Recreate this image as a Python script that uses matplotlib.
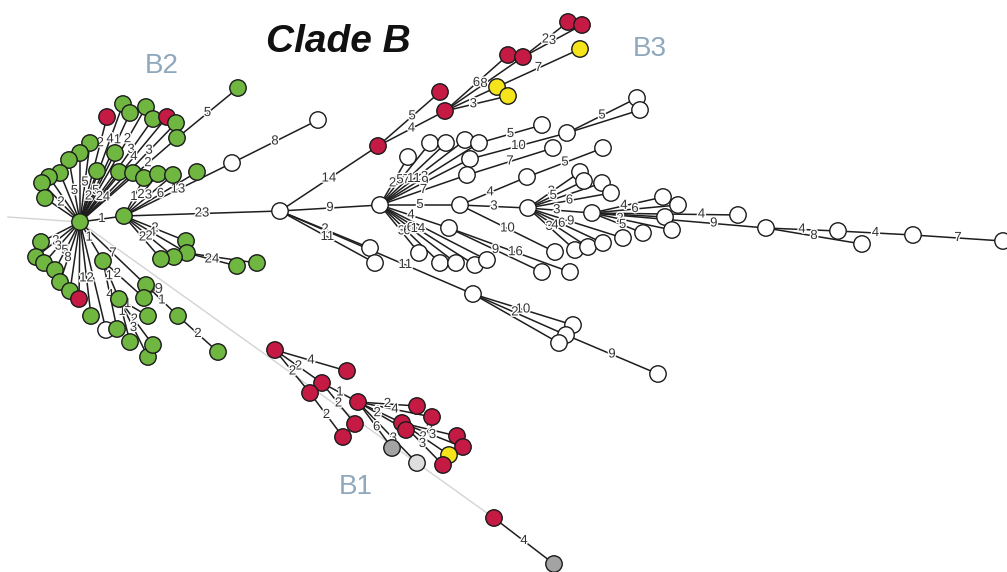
import matplotlib.pyplot as plt
import matplotlib.patheffects as pe

# colour codes for node fills
FILL = {"g": "#70b742", "r": "#c41a44", "y": "#f5e31b", "k": "#a3a3a3",
        "l": "#dedede", "w": "#ffffff"}

# --- nodes: (id, x, y, fill) in layout units (y grows downward) ---
b2_nodes = [
    ("g0", 80, 222, "g"), ("g1", 124, 216, "g"),
    ("u1", 107, 117, "r"), ("u2", 123, 104, "g"), ("u3", 130, 113, "g"),
    ("u4", 146, 107, "g"), ("u5", 153, 119, "g"), ("u6", 167, 117, "r"),
    ("u7", 176, 123, "g"), ("u8", 177, 138, "g"), ("u9", 238, 88, "g"),
    ("u10", 115, 153, "g"), ("u11", 90, 143, "g"), ("u12", 80, 153, "g"),
    ("u13", 69, 160, "g"), ("u14", 60, 173, "g"), ("u15", 49, 177, "g"),
    ("u16", 42, 183, "g"), ("u17", 45, 198, "g"), ("u18", 97, 171, "g"),
    ("u19", 119, 172, "g"), ("u20", 133, 173, "g"), ("u21", 144, 178, "g"),
    ("u22", 158, 174, "g"), ("u23", 173, 175, "g"), ("u24", 197, 172, "g"),
    ("l1", 41, 242, "g"), ("l2", 36, 257, "g"), ("l3", 44, 263, "g"),
    ("l4", 55, 270, "g"), ("l5", 60, 282, "g"), ("l6", 70, 291, "g"),
    ("l7", 79, 299, "r"), ("l8", 91, 316, "g"), ("l9", 106, 330, "w"),
    ("l10", 117, 329, "g"), ("l11", 130, 342, "g"), ("l12", 148, 357, "g"),
    ("l13", 153, 345, "g"), ("l14", 148, 316, "g"), ("l15", 119, 299, "g"),
    ("l16", 103, 261, "g"), ("l17", 146, 285, "g"), ("l18", 144, 298, "g"),
    ("l19", 178, 316, "g"), ("l20", 218, 352, "g"), ("l21", 186, 241, "g"),
    ("l22", 187, 253, "g"), ("l23", 174, 257, "g"), ("l24", 161, 259, "g"),
    ("l25", 237, 266, "g"), ("l26", 257, 263, "g"),
]

b3_nodes = [
    ("wb", 232, 163, "w"), ("w5", 318, 120, "w"),
    ("w0", 280, 211, "w"), ("w1", 380, 205, "w"), ("w2", 460, 205, "w"),
    ("w3", 528, 208, "w"), ("w4", 592, 213, "w"),
    ("r1", 378, 146, "r"), ("r2", 440, 92, "r"), ("r3", 445, 111, "r"),
    ("r4", 508, 55, "r"), ("r5", 523, 57, "r"), ("r6", 568, 22, "r"),
    ("r7", 582, 25, "r"), ("y1", 497, 87, "y"), ("y2", 508, 96, "y"),
    ("y3", 580, 49, "y"),
    ("a1", 408, 157, "w"), ("a2", 430, 143, "w"), ("a3", 446, 143, "w"),
    ("a4", 465, 140, "w"), ("a5", 479, 143, "w"), ("a6", 470, 159, "w"),
    ("a7", 467, 175, "w"), ("a8", 542, 125, "w"), ("a9", 567, 133, "w"),
    ("a10", 553, 148, "w"), ("a11", 637, 98, "w"), ("a12", 640, 110, "w"),
    ("b1", 449, 228, "w"), ("b2", 419, 253, "w"), ("b3", 440, 263, "w"),
    ("b4", 456, 263, "w"), ("b5", 475, 265, "w"), ("b6", 487, 260, "w"),
    ("b7", 542, 272, "w"), ("b8", 570, 272, "w"),
    ("c1", 370, 248, "w"), ("c2", 375, 263, "w"), ("c3", 473, 294, "w"),
    ("c4", 573, 325, "w"), ("c5", 566, 335, "w"), ("c6", 559, 343, "w"),
    ("c7", 658, 374, "w"),
    ("d1", 527, 177, "w"), ("d2", 603, 148, "w"), ("d3", 555, 252, "w"),
    ("e1", 580, 172, "w"), ("e2", 584, 181, "w"), ("e3", 602, 183, "w"),
    ("e4", 611, 193, "w"), ("e5", 575, 250, "w"), ("e6", 588, 247, "w"),
    ("e7", 603, 243, "w"), ("e8", 623, 238, "w"),
    ("f1", 663, 197, "w"), ("f2", 678, 205, "w"), ("f3", 665, 217, "w"),
    ("f4", 672, 230, "w"), ("f5", 643, 233, "w"),
    ("h1", 738, 215, "w"), ("h2", 766, 228, "w"), ("h3", 838, 231, "w"),
    ("h4", 862, 244, "w"), ("h5", 913, 235, "w"), ("h6", 1003, 241, "w"),
]

b1_nodes = [
    ("m1", 275, 350, "r"), ("m2", 347, 371, "r"), ("m3", 322, 383, "r"),
    ("m4", 310, 393, "r"), ("m5", 358, 402, "r"), ("m6", 355, 424, "r"),
    ("m7", 343, 437, "r"), ("m8", 417, 406, "r"), ("m9", 432, 417, "r"),
    ("m10", 402, 423, "r"), ("m11", 406, 430, "r"), ("m12", 392, 448, "k"),
    ("m13", 417, 463, "l"), ("m14", 457, 436, "r"), ("m15", 463, 447, "r"),
    ("m16", 449, 455, "y"), ("m17", 443, 465, "r"), ("m18", 494, 518, "r"),
    ("m19", 554, 564, "k"),
]

# --- edges: (from, to, distance label, label position along edge) ---
b2_edges = [
    ("g0", "g1", "1", 0.5),
    ("g0", "u1", "2", 0.75), ("g0", "u2", "4", 0.7), ("g0", "u3", "1", 0.75),
    ("g0", "u4", "2", 0.72), ("g0", "u5", "3", 0.7), ("g0", "u6", "4", 0.62),
    ("g0", "u7", "3", 0.72), ("g0", "u8", "2", 0.7), ("u8", "u9", "5", 0.5),
    ("g0", "u10", "5", 0.45), ("g0", "u11", "5", 0.5), ("g0", "u12", "", 0.5),
    ("g0", "u13", "5", 0.5), ("g0", "u14", "", 0.5), ("g0", "u15", "", 0.5),
    ("g0", "u16", "2", 0.5), ("g0", "u17", "", 0.5), ("g0", "u18", "2", 0.5),
    ("g0", "u19", "2", 0.5), ("g0", "u20", "4", 0.5),
    ("g1", "u21", "1", 0.5), ("g1", "u22", "2", 0.5), ("g1", "u23", "3", 0.5),
    ("g1", "u24", "6", 0.5),
    ("g0", "l1", "", 0.5), ("g0", "l2", "2", 0.55), ("g0", "l3", "3", 0.6),
    ("g0", "l4", "5", 0.6), ("g0", "l5", "8", 0.6), ("g0", "l6", "", 0.5),
    ("g0", "l7", "", 0.5), ("g0", "l8", "12", 0.6), ("g0", "l9", "", 0.5),
    ("g0", "l16", "1", 0.4), ("g0", "l17", "7", 0.5),
    ("l16", "l15", "1", 0.4), ("l16", "l18", "2", 0.35), ("l16", "l10", "4", 0.5),
    ("l15", "l14", "1", 0.3), ("l15", "l11", "1", 0.3), ("l15", "l13", "2", 0.45),
    ("l15", "l12", "3", 0.5), ("l17", "l19", "1", 0.5), ("l19", "l20", "2", 0.5),
    ("g1", "l21", "2", 0.5), ("g1", "l22", "4", 0.45), ("g1", "l23", "2", 0.5),
    ("g1", "l24", "2", 0.5), ("l22", "l25", "24", 0.5), ("l22", "l26", "", 0.5),
]

b3_edges = [
    ("g1", "w0", "23", 0.5), ("g1", "wb", "13", 0.5), ("wb", "w5", "8", 0.5),
    ("w0", "w1", "9", 0.5), ("w0", "r1", "14", 0.5),
    ("r1", "r2", "5", 0.55), ("r1", "r3", "4", 0.5),
    ("r3", "r4", "6", 0.5), ("r3", "r5", "8", 0.5), ("r3", "y1", "", 0.5),
    ("r3", "y2", "3", 0.45), ("r5", "r6", "2", 0.5), ("r5", "r7", "3", 0.5),
    ("y1", "y3", "7", 0.5),
    ("w0", "c1", "2", 0.5), ("w0", "c2", "11", 0.5), ("w0", "c3", "11", 0.65),
    ("c3", "c4", "10", 0.5), ("c3", "c5", "2", 0.45), ("c3", "c6", "", 0.5),
    ("c5", "c7", "9", 0.5),
    ("w1", "w2", "5", 0.5),
    ("w1", "a1", "2", 0.45), ("w1", "a2", "5", 0.4), ("w1", "a3", "7", 0.4),
    ("w1", "a4", "11", 0.4), ("w1", "a5", "3", 0.45), ("w1", "a6", "9", 0.5),
    ("w1", "a7", "7", 0.5), ("a5", "a8", "5", 0.5), ("a6", "a9", "10", 0.5),
    ("a7", "a10", "7", 0.5), ("a9", "a11", "5", 0.5), ("a9", "a12", "", 0.5),
    ("w1", "b1", "4", 0.45), ("w1", "b2", "3", 0.55), ("w1", "b3", "6", 0.45),
    ("w1", "b4", "6", 0.4), ("w1", "b5", "14", 0.4), ("w1", "b6", "", 0.5),
    ("b1", "b7", "9", 0.5), ("b1", "b8", "16", 0.55),
    ("w2", "d1", "4", 0.45), ("w2", "w3", "3", 0.5), ("w2", "d3", "10", 0.5),
    ("d1", "d2", "5", 0.5),
    ("w3", "e1", "3", 0.45), ("w3", "e2", "5", 0.45), ("w3", "e3", "", 0.5),
    ("w3", "e4", "6", 0.5), ("w3", "w4", "3", 0.45), ("w3", "e5", "3", 0.45),
    ("w3", "e6", "4", 0.45), ("w3", "e7", "6", 0.45), ("w3", "e8", "9", 0.45),
    ("w4", "f1", "4", 0.45), ("w4", "f2", "6", 0.5), ("w4", "f3", "", 0.5),
    ("w4", "f4", "2", 0.35), ("w4", "f5", "5", 0.6),
    ("w4", "h1", "4", 0.75), ("w4", "h2", "9", 0.7),
    ("h2", "h3", "4", 0.5), ("h2", "h4", "8", 0.5), ("h3", "h5", "4", 0.5),
    ("h5", "h6", "7", 0.5),
]

b1_edges = [
    ("m1", "m2", "4", 0.5), ("m1", "m3", "2", 0.5), ("m1", "m4", "2", 0.5),
    ("m3", "m5", "1", 0.5), ("m3", "m6", "2", 0.5), ("m4", "m7", "2", 0.5),
    ("m5", "m8", "2", 0.5), ("m5", "m9", "4", 0.5), ("m5", "m10", "1", 0.45),
    ("m5", "m11", "2", 0.4), ("m5", "m12", "6", 0.55), ("m5", "m13", "3", 0.6),
    ("m10", "m14", "2", 0.5), ("m10", "m15", "3", 0.5), ("m10", "m16", "2", 0.45),
    ("m10", "m17", "3", 0.5), ("m18", "m19", "4", 0.5),
]

# faint guide lines joining B2 with B1
faint_links = [("g0", "m18"), ("g0", (8, 217))]

clade_titles = [("B2", 162, 66), ("B3", 650, 49), ("B1", 356, 487)]

# ------------------------------------------------------------------
pos = {}
fill = {}
for group in (b2_nodes, b3_nodes, b1_nodes):
    for nid, x, y, c in group:
        pos[nid] = (x, y)
        fill[nid] = FILL[c]

fig = plt.figure(figsize=(10.07, 5.72), dpi=100)
ax = fig.add_axes([0, 0, 1, 1])
ax.set_xlim(0, 1007)
ax.set_ylim(572, 0)
ax.axis("off")

for a, b in faint_links:
    p = pos[a]
    q = pos[b] if isinstance(b, str) else b
    ax.plot([p[0], q[0]], [p[1], q[1]], color="#d4d4d4", lw=1.0, zorder=0)

halo = [pe.withStroke(linewidth=2.0, foreground="white")]
for edges in (b2_edges, b3_edges, b1_edges):
    for a, b, lab, t in edges:
        (x1, y1), (x2, y2) = pos[a], pos[b]
        ax.plot([x1, x2], [y1, y2], color="#1e1e1e", lw=1.1, zorder=1)
        if lab:
            ax.text(x1 + t * (x2 - x1), y1 + t * (y2 - y1), lab,
                    fontsize=9.5, color="#333333", family="Liberation Sans",
                    ha="center", va="center", zorder=2, path_effects=halo)

ids = list(pos)
ax.scatter([pos[i][0] for i in ids], [pos[i][1] for i in ids],
           s=140, c=[fill[i] for i in ids], edgecolors="#1a1a1a",
           linewidths=1.0, zorder=3)

ax.text(155, 289, "59", fontsize=11, color="#444444", family="Liberation Sans",
        ha="center", va="center", zorder=2)

for name, x, y in clade_titles:
    ax.text(x, y, name, fontsize=20, color="#8fa8bd", family="Liberation Sans",
            ha="center", va="center")

ax.text(338, 42, "Clade B", fontsize=28, fontweight="bold", fontstyle="italic",
        family="Liberation Sans", color="#111111", ha="center", va="center")

fig.savefig("out.png", dpi=100)
